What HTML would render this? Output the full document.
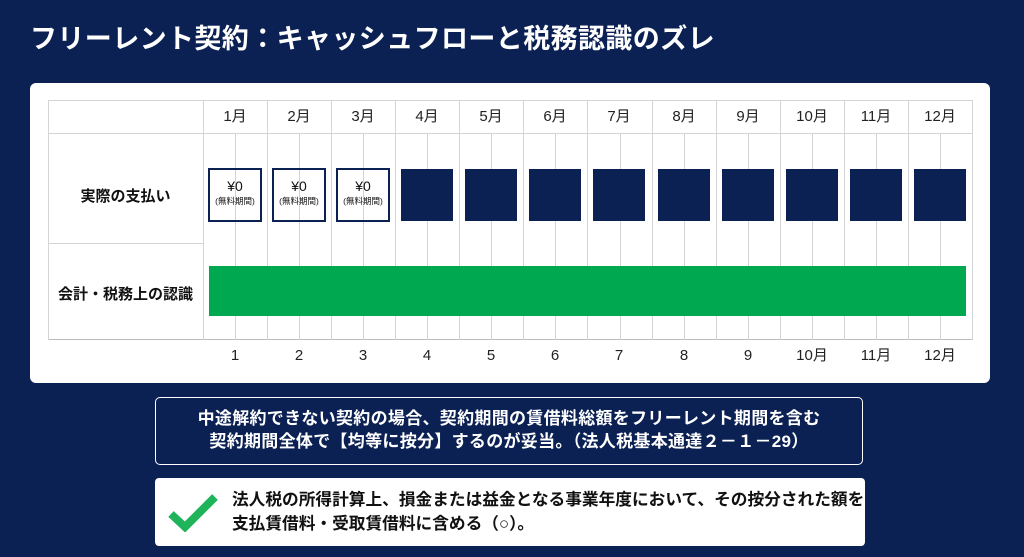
<!DOCTYPE html>
<html><head><meta charset="utf-8"><style>
body{margin:0;width:1024px;height:557px;background:#0c2153;font-family:"Liberation Sans","Noto Sans CJK JP",sans-serif;position:relative;overflow:hidden}
.a{position:absolute}
.title{left:30px;top:17px;font-size:27px;font-weight:bold;color:#fff;letter-spacing:0.4px}
.card{left:30px;top:83px;width:960px;height:300px;background:#fff;border-radius:6px}
.vl{position:absolute;width:1px;background:#d4d4d4}
.hl{position:absolute;height:1px;background:#d4d4d4}
.mh{position:absolute;top:100px;height:33px;line-height:33px;text-align:center;font-size:15px;color:#222;width:64px}
.bl{position:absolute;top:344px;line-height:24px;text-align:center;font-size:15px;color:#222;width:64px}
.free{position:absolute;top:168px;width:50px;height:50px;border:2px solid #0c2153;text-align:center;color:#111;font-size:14px;line-height:15px;box-sizing:content-box}
.free small{font-size:8.5px;display:block;white-space:nowrap;margin-left:-3px;margin-right:-3px}
.dk{position:absolute;top:169px;width:52px;height:52px;background:#0c2153}
.lab{position:absolute;left:48px;width:155px;text-align:center;font-weight:bold;font-size:15px;color:#111}
.box1{left:155px;top:397px;width:708px;height:68px;border:1.5px solid #fff;border-radius:5px;color:#fff;text-align:center;font-weight:bold;font-size:17px;line-height:23px;box-sizing:border-box;padding-top:9px;letter-spacing:0.3px}
.box2{left:155px;top:478px;width:710px;height:68px;background:#fff;border-radius:4px}
</style></head><body>
<div class="a title">フリーレント契約：キャッシュフローと税務認識のズレ</div>
<div class="a card"></div>
<div id="g"></div>
<div class="lab" style="top:185px">実際の支払い</div>
<div class="lab" style="top:283px">会計・税務上の認識</div>
<div class="a" style="left:209px;top:266px;width:757px;height:50px;background:#00a84f"></div>
<div class="a box1">中途解約できない契約の場合、契約期間の賃借料総額をフリーレント期間を含む<br>契約期間全体で【均等に按分】するのが妥当。（法人税基本通達２－１－29）</div>
<div class="a box2">
<svg class="a" style="left:12px;top:14px" width="52" height="40"><polyline points="4,22 18,35 48,5" fill="none" stroke="#1fb45a" stroke-width="8"/></svg>
<div class="a" style="left:77px;top:10px;font-size:16.7px;font-weight:bold;line-height:24px;color:#111;white-space:nowrap">法人税の所得計算上、損金または益金となる事業年度において、その按分された額を<br>支払賃借料・受取賃借料に含める（○）。</div>
</div>
<script>
var g=document.getElementById('g'),h='';
var x0=203,w=64.08;
h+='<div class="hl" style="left:48px;top:100px;width:924px"></div>';
h+='<div class="hl" style="left:48px;top:133px;width:924px"></div>';
h+='<div class="hl" style="left:48px;top:243px;width:155px"></div>';
h+='<div class="hl" style="left:48px;top:339px;width:924px;background:#bbb"></div>';
h+='<div class="vl" style="left:48px;top:100px;height:240px"></div>';
for(var i=0;i<=12;i++){var x=Math.round(x0+i*w);h+='<div class="vl" style="left:'+x+'px;top:100px;height:240px"></div>';}
for(var i=0;i<12;i++){var x=x0+i*w,c=Math.round(x+w/2);
h+='<div class="vl" style="left:'+c+'px;top:133px;height:207px"></div>';
h+='<div class="mh" style="left:'+Math.round(x)+'px">'+(i+1)+'月</div>';
h+='<div class="bl" style="left:'+Math.round(x)+'px">'+(i+1)+(i>=9?'月':'')+'</div>';
if(i<3)h+='<div class="free" style="left:'+Math.round(x+5)+'px"><div style="margin-top:9px">¥0</div><small>(無料期間)</small></div>';
else h+='<div class="dk" style="left:'+Math.round(x+6)+'px"></div>';}
g.innerHTML=h;
</script>
</body></html>
